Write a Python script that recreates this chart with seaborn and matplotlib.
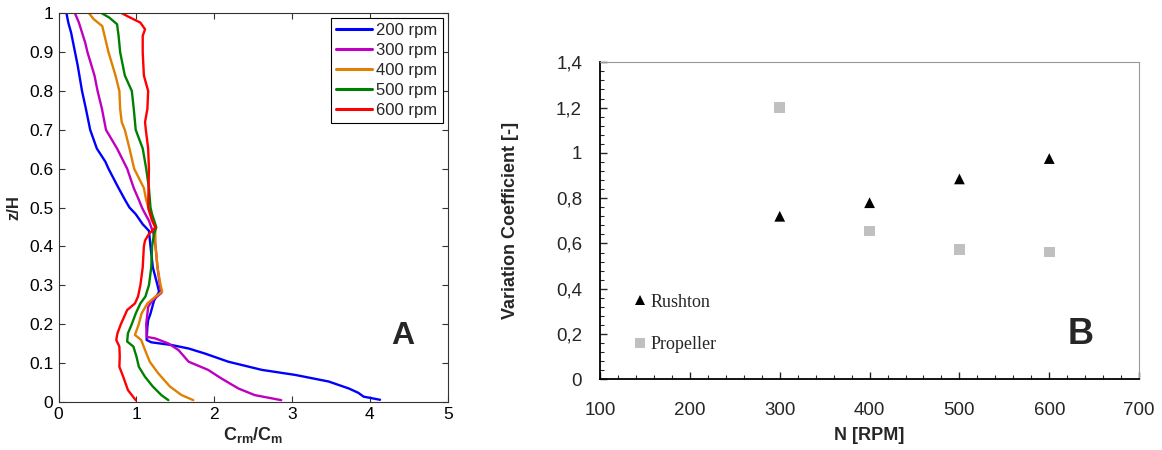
import numpy as np
import pandas as pd
import matplotlib
matplotlib.use("Agg")
import matplotlib.pyplot as plt
import seaborn as sns
from matplotlib.ticker import MultipleLocator, FuncFormatter

# ---- panel A: concentration profiles (z/H vs Crm/Cm) ----
z_200 = [0.005, 0.013, 0.023, 0.034, 0.052, 0.069, 0.082, 0.103, 0.124, 0.137, 0.146, 0.153,
         0.159, 0.193, 0.21, 0.227, 0.26, 0.283, 0.30, 0.346, 0.40, 0.44, 0.457, 0.483, 0.50,
         0.517, 0.55, 0.60, 0.618, 0.652, 0.70, 0.754, 0.80, 0.865, 0.90, 0.95, 0.975, 1.0]
c_200 = [4.13, 3.92, 3.85, 3.73, 3.47, 3.04, 2.61, 2.18, 1.88, 1.67, 1.45, 1.19,
         1.13, 1.14, 1.15, 1.18, 1.225, 1.29, 1.27, 1.21, 1.18, 1.16, 1.08, 0.99, 0.91,
         0.86, 0.77, 0.64, 0.60, 0.49, 0.405, 0.35, 0.30, 0.245, 0.21, 0.16, 0.125, 0.10]

z_300 = [0.004, 0.017, 0.034, 0.06, 0.082, 0.103, 0.133, 0.15, 0.163, 0.167, 0.20, 0.244,
         0.26, 0.28, 0.30, 0.346, 0.40, 0.432, 0.466, 0.49, 0.50, 0.52, 0.55, 0.60, 0.652,
         0.70, 0.754, 0.80, 0.84, 0.90, 0.925, 0.976, 1.0]
c_300 = [2.86, 2.52, 2.31, 2.09, 1.92, 1.67, 1.54, 1.41, 1.24, 1.13, 1.125, 1.15,
         1.20, 1.32, 1.30, 1.27, 1.245, 1.22, 1.16, 1.095, 1.07, 1.03, 0.965, 0.88, 0.75,
         0.608, 0.556, 0.50, 0.46, 0.37, 0.34, 0.26, 0.21]

z_400 = [0.004, 0.017, 0.039, 0.073, 0.103, 0.133, 0.159, 0.172, 0.20, 0.227, 0.253, 0.271,
         0.283, 0.30, 0.346, 0.40, 0.449, 0.483, 0.519, 0.55, 0.60, 0.652, 0.70, 0.72, 0.754,
         0.80, 0.84, 0.90, 0.942, 0.967, 0.985, 1.0]
c_400 = [1.73, 1.58, 1.43, 1.28, 1.17, 1.11, 1.06, 0.98, 1.03, 1.065, 1.14, 1.245,
         1.33, 1.31, 1.27, 1.245, 1.24, 1.18, 1.125, 1.095, 0.97, 0.91, 0.85, 0.81, 0.79,
         0.78, 0.73, 0.64, 0.59, 0.56, 0.45, 0.39]

z_500 = [0.004, 0.017, 0.039, 0.064, 0.09, 0.116, 0.142, 0.155, 0.176, 0.20, 0.227, 0.253,
         0.271, 0.30, 0.346, 0.40, 0.432, 0.449, 0.483, 0.50, 0.55, 0.60, 0.652, 0.70, 0.754,
         0.80, 0.84, 0.90, 0.942, 0.972, 0.989, 1.0]
c_500 = [1.41, 1.32, 1.21, 1.11, 1.03, 1.00, 0.96, 0.88, 0.89, 0.94, 0.99, 1.05,
         1.115, 1.16, 1.19, 1.20, 1.225, 1.255, 1.20, 1.18, 1.16, 1.125, 1.08, 0.99, 0.965,
         0.94, 0.85, 0.79, 0.77, 0.75, 0.65, 0.556]

z_600 = [0.004, 0.03, 0.064, 0.09, 0.116, 0.142, 0.159, 0.176, 0.20, 0.236, 0.253, 0.271,
         0.30, 0.346, 0.40, 0.415, 0.432, 0.449, 0.466, 0.50, 0.60, 0.652, 0.70, 0.72, 0.754,
         0.80, 0.84, 0.90, 0.942, 0.959, 0.976, 0.993, 1.0]
c_600 = [0.99, 0.89, 0.83, 0.78, 0.785, 0.78, 0.74, 0.755, 0.80, 0.88, 0.98, 1.02,
         1.05, 1.08, 1.095, 1.11, 1.16, 1.245, 1.20, 1.15, 1.16, 1.15, 1.12, 1.11, 1.14,
         1.15, 1.095, 1.08, 1.08, 1.11, 1.05, 0.88, 0.815]

speed_labels = ["200 rpm", "300 rpm", "400 rpm", "500 rpm", "600 rpm"]
speed_colors = ["#0000FF", "#BF00BF", "#E07F00", "#008000", "#FF0000"]

# ---- panel B: variation coefficient ----
n_rpm = [300, 400, 500, 600]
cv_rushton = [0.72, 0.78, 0.885, 0.975]
cv_propeller = [1.20, 0.655, 0.572, 0.562]

profiles = []
for lab, zz, cc in zip(speed_labels, [z_200, z_300, z_400, z_500, z_600],
                       [c_200, c_300, c_400, c_500, c_600]):
    profiles.append(pd.DataFrame({"speed": lab, "z": zz, "c": cc}))
df_a = pd.concat(profiles, ignore_index=True)

df_b = pd.concat([
    pd.DataFrame({"impeller": "Rushton", "N": n_rpm, "cv": cv_rushton}),
    pd.DataFrame({"impeller": "Propeller", "N": n_rpm, "cv": cv_propeller}),
], ignore_index=True)

sns.set_theme(style="ticks")
plt.rcParams["font.family"] = ["Liberation Sans", "DejaVu Sans"]
plt.rcParams["mathtext.fontset"] = "custom"
plt.rcParams["mathtext.rm"] = "Liberation Sans"
plt.rcParams["mathtext.bf"] = "Liberation Sans:bold"

fig = plt.figure(figsize=(11.62, 4.5), dpi=100)
ax1 = fig.add_axes([0.0505, 0.1073, 0.3348, 0.8631])
ax2 = fig.add_axes([0.5164, 0.1571, 0.4639, 0.7044])

# ===== panel A =====
sns.lineplot(data=df_a, x="c", y="z", hue="speed", palette=dict(zip(speed_labels, speed_colors)),
             sort=False, estimator=None, linewidth=1.7, ax=ax1)
ax1.set_xlim(0, 5)
ax1.set_ylim(0, 1)
ax1.xaxis.set_major_locator(MultipleLocator(1))
ax1.yaxis.set_major_locator(MultipleLocator(0.1))
ax1.yaxis.set_major_formatter(FuncFormatter(lambda v, p: f"{v:g}"))
ax1.tick_params(direction="in", top=True, right=True, length=4, width=0.8,
                labelsize=12.5, colors="#333333", labelcolor="black", pad=4)
for s in ax1.spines.values():
    s.set_color("#333333")
    s.set_linewidth(0.8)
ax1.set_xlabel(r"$\mathbf{C}_{\mathbf{rm}}\mathbf{/C}_{\mathbf{m}}$", fontsize=13)
ax1.set_ylabel("z/H", fontsize=12, fontweight="bold")
ax1.xaxis.set_label_coords(0.5, -0.06)
ax1.yaxis.set_label_coords(-0.095, 0.5)
leg = ax1.legend(loc="upper right", fontsize=12, frameon=True, fancybox=False,
                 edgecolor="black", framealpha=1, handlelength=2.2, labelspacing=0.3,
                 borderpad=0.3, borderaxespad=0.3, handletextpad=0.25)
leg.get_frame().set_linewidth(0.8)
for ln in leg.get_lines():
    ln.set_linewidth(2.2)
ax1.text(4.42, 0.17, "A", fontsize=23, fontweight="bold", ha="center", va="center")

# ===== panel B =====
sns.scatterplot(data=df_b, x="N", y="cv", hue="impeller", style="impeller",
                markers={"Rushton": "^", "Propeller": "s"},
                palette={"Rushton": "black", "Propeller": "#C0C0C0"},
                s=60, linewidth=0, ax=ax2)
ax2.set_xlim(100, 700)
ax2.set_ylim(0, 1.4)
ax2.xaxis.set_major_locator(MultipleLocator(100))
ax2.xaxis.set_minor_locator(MultipleLocator(20))
ax2.yaxis.set_major_locator(MultipleLocator(0.2))
ax2.yaxis.set_minor_locator(MultipleLocator(0.04))
ax2.yaxis.set_major_formatter(FuncFormatter(lambda v, p: f"{v:.1f}".rstrip("0").rstrip(".").replace(".", ",")))
ax2.tick_params(which="major", direction="in", length=5, width=1, labelsize=13.5, pad=16)
ax2.tick_params(which="minor", direction="in", length=3, width=0.8)
ax2.tick_params(axis="y", which="major", pad=13)
for side in ["left", "bottom"]:
    ax2.spines[side].set_color("black")
    ax2.spines[side].set_linewidth(1.3)
for side in ["top", "right"]:
    ax2.spines[side].set_color("#999999")
    ax2.spines[side].set_linewidth(0.8)
ax2.set_xlabel("N [RPM]", fontsize=13, fontweight="bold")
ax2.set_ylabel("Variation Coefficient [-]", fontsize=13, fontweight="bold")
ax2.xaxis.set_label_coords(0.5, -0.15)
ax2.yaxis.set_label_coords(-0.15, 0.5)
leg2 = ax2.legend(loc="lower left", bbox_to_anchor=(0.05, 0.06), frameon=False,
                  prop={"family": "Liberation Serif", "size": 13},
                  handlelength=0.6, handletextpad=0.3, labelspacing=1.4, borderaxespad=0)
ax2.text(635, 0.2, "B", fontsize=26, fontweight="bold", ha="center", va="center")

fig.savefig("out.png", dpi=100)
